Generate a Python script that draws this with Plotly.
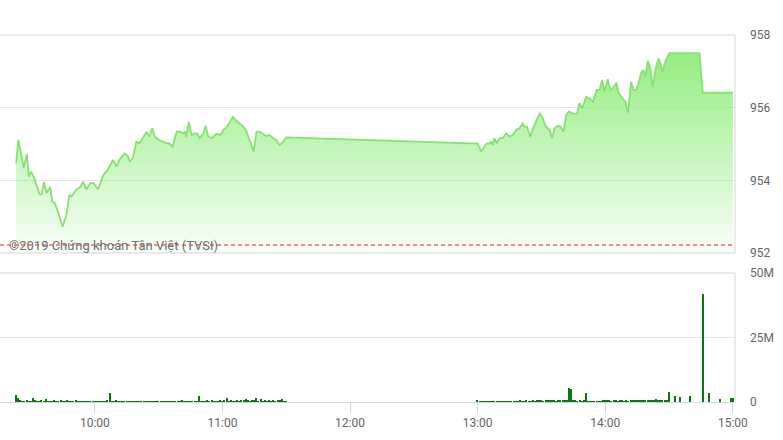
import plotly.graph_objects as go
import pandas as pd

DAY = "2019-06-03 "

# ---- index (price) series: time of day, index level ----
price_times = [
    "09:23:00", "09:24:00", "09:25:00", "09:26:30", "09:28:00", "09:29:00", "09:30:00", "09:31:30",
    "09:32:30", "09:34:00", "09:35:00", "09:36:00", "09:37:20", "09:39:00", "09:40:00", "09:41:10",
    "09:42:50", "09:44:50", "09:46:40", "09:48:00", "09:49:00", "09:51:20", "09:53:00", "09:54:30",
    "09:56:00", "09:58:00", "09:59:30", "10:01:30", "10:04:00", "10:06:00", "10:08:30", "10:10:10",
    "10:11:30", "10:14:00", "10:15:20", "10:16:30", "10:18:00", "10:19:30", "10:21:00", "10:22:30",
    "10:24:20", "10:25:30", "10:27:00", "10:28:10", "10:30:10", "10:33:00", "10:35:00", "10:36:30",
    "10:38:30", "10:40:00", "10:41:30", "10:42:20", "10:43:00", "10:44:10", "10:45:30", "10:47:00",
    "10:48:00", "10:49:20", "10:51:00", "10:52:10", "10:53:10", "10:54:50", "10:56:00", "10:57:10",
    "10:59:00", "11:00:30", "11:02:10", "11:03:30", "11:05:00", "11:06:30", "11:09:00", "11:11:00",
    "11:12:50", "11:14:40", "11:16:00", "11:17:30", "11:18:50", "11:20:40", "11:22:10", "11:23:50",
    "11:25:20", "11:26:50", "11:28:30", "11:30:00",
    "13:00:00", "13:01:40", "13:03:10", "13:04:20", "13:05:10", "13:06:20", "13:07:10", "13:07:50",
    "13:09:00", "13:10:20", "13:11:50", "13:13:30", "13:15:00", "13:16:30", "13:18:10", "13:19:40",
    "13:21:10", "13:22:00", "13:23:10", "13:24:40", "13:26:00", "13:27:30", "13:29:10", "13:30:20",
    "13:32:00", "13:33:50", "13:35:00", "13:36:10", "13:37:40", "13:38:50", "13:40:20", "13:41:40",
    "13:42:50", "13:44:40", "13:46:40", "13:47:50", "13:49:10", "13:51:00", "13:52:30", "13:54:10",
    "13:56:00", "13:57:20", "13:58:30", "13:59:40", "14:01:10", "14:02:20", "14:03:30", "14:05:10",
    "14:06:20", "14:08:10", "14:09:30", "14:10:40", "14:12:10", "14:13:20", "14:14:30", "14:15:40",
    "14:16:50", "14:17:50", "14:18:50", "14:20:00", "14:21:10", "14:22:20", "14:23:50", "14:25:10",
    "14:26:20", "14:27:00", "14:28:20", "14:30:10", "14:44:20", "14:45:50", "15:00:00",
]
price_values = [
    954.47, 955.11, 954.83, 954.34, 954.72, 954.10, 954.24, 954.06,
    953.87, 953.62, 953.61, 953.96, 953.65, 953.82, 953.41, 953.38,
    953.10, 952.72, 953.05, 953.60, 953.55, 953.75, 953.81, 953.96,
    953.75, 953.93, 953.92, 953.75, 954.15, 954.28, 954.56, 954.38,
    954.56, 954.74, 954.68, 954.51, 954.63, 955.06, 955.02, 955.16,
    955.34, 955.20, 955.43, 955.20, 955.11, 955.04, 955.02, 954.93,
    955.34, 955.34, 955.29, 955.34, 955.20, 955.61, 955.25, 955.29,
    955.29, 955.16, 955.29, 955.50, 955.22, 955.16, 955.22, 955.28,
    955.25, 955.39, 955.48, 955.61, 955.75, 955.64, 955.52, 955.39,
    955.11, 954.79, 955.34, 955.34, 955.29, 955.22, 955.25, 955.16,
    955.11, 954.97, 955.06, 955.18,
    955.01, 954.79, 954.93, 955.02, 955.00, 955.06, 954.97, 955.16,
    955.02, 955.16, 955.17, 955.29, 955.20, 955.25, 955.39, 955.43,
    955.57, 955.48, 955.48, 955.20, 955.43, 955.61, 955.84, 955.75,
    955.48, 955.39, 955.16, 955.43, 955.50, 955.48, 955.34, 955.80,
    955.89, 955.84, 955.83, 956.12, 955.98, 956.30, 956.26, 956.16,
    956.49, 956.49, 956.76, 956.44, 956.78, 956.49, 956.53, 956.69,
    956.40, 956.26, 956.16, 955.86, 956.71, 956.49, 956.49, 956.67,
    956.95, 957.04, 956.85, 957.29, 957.08, 956.58, 957.13, 957.36,
    957.13, 956.99, 957.29, 957.50, 957.50, 956.41, 956.41,
]
ref_price = 952.22

# ---- volume (millions of shares), one bar per minute ----
vol_am_start = "09:23"
vol_am = [
    2.7, 1.6, 0.4, 0.3, 0.2, 0.4, 0.2, 0.3, 1.4, 0.4,
    0.3, 0.2, 0.4, 0.2, 1.2, 0.2, 0.3, 0.2, 0.5, 0.2,
    0.3, 0.6, 0.2, 0.3, 0.8, 0.2, 0.3, 0.2, 0.8, 0.3,
    0.2, 0.3, 0.2, 0.1, 0.2, 0.3, 0.2, 0.2, 0.1, 0.2,
    0.3, 0.2, 0.2, 0.4, 3.6, 0.3, 0.2, 0.4, 0.2, 0.3,
    0.2, 0.1, 0.2, 0.1, 0.2, 0.1, 0.2, 0.1, 0.2, 0.1,
    0.2, 0.2, 0.1, 0.2, 0.1, 0.2, 0.1, 0.2, 0.2, 0.1,
    0.2, 0.1, 0.2, 0.2, 0.1, 0.2, 0.3, 0.2, 0.4, 0.2,
    0.3, 0.2, 0.2, 0.3, 0.2, 0.2, 2.3, 0.3, 0.2, 0.2,
    0.4, 0.3, 0.5, 0.2, 0.3, 0.2, 0.4, 0.3, 0.4, 1.5,
    0.3, 0.4, 0.2, 0.3, 0.4, 0.3, 0.5, 0.4, 1.0, 0.5,
    0.3, 0.4, 0.4, 1.5, 0.3, 1.2, 0.3, 0.4, 0.3, 0.5,
    0.3, 0.4, 0.3, 0.5, 0.7, 1.0, 0.2, 0.1,
]
vol_pm_start = "13:00"
vol_pm = [
    0.4, 0.2, 0.1, 0.2, 0.1, 0.2, 0.1, 0.2, 0.1, 0.2,
    0.3, 0.1, 0.2, 0.2, 0.3, 0.2, 0.2, 0.3, 0.2, 0.3,
    0.4, 0.3, 0.2, 0.4, 0.2, 0.3, 0.5, 0.3, 0.4, 0.6,
    0.5, 0.3, 0.7, 0.4, 0.5, 0.4, 0.5, 0.3, 0.9, 0.5,
    0.4, 0.7, 0.5, 5.3, 5.2, 0.8, 0.4, 0.3, 0.4, 0.3,
    0.5, 3.6, 0.3, 0.3, 0.2, 0.3, 0.2, 0.3, 0.2, 0.4,
    0.5, 0.6, 0.4, 0.3, 0.4, 0.5, 0.3, 0.4, 0.5, 0.3,
    0.4, 0.3, 0.4, 0.5, 0.4, 0.6, 0.4, 0.5, 0.7, 0.5,
    0.4, 0.5, 0.6, 0.4, 1.3, 0.5, 0.6, 0.5, 0.7, 0.6,
    3.9,
]
vol_late_times = ["14:33", "14:35", "14:40", "14:46", "14:49", "14:54", "14:59", "15:00"]
vol_late = [2.3, 1.9, 2.4, 42.0, 3.6, 1.2, 1.5, 1.5]

price_ticks = [952, 954, 956, 958]
vol_ticks = [0, 25, 50]
vol_tick_labels = ["0", "25M", "50M"]
time_ticks = ["10:00", "11:00", "12:00", "13:00", "14:00", "15:00"]
watermark = "©2019 Chứng khoán Tân Việt (TVSI)"

# ---- build ----
px = [pd.Timestamp(DAY + t) for t in price_times]
vx = (list(pd.date_range(DAY + vol_am_start, periods=len(vol_am), freq="min"))
      + list(pd.date_range(DAY + vol_pm_start, periods=len(vol_pm), freq="min"))
      + [pd.Timestamp(DAY + t) for t in vol_late_times])
vy = [v * 1e6 for v in vol_am + vol_pm + vol_late]

x_range = [DAY + "09:15:24", DAY + "15:01:00"]
FONT = "Roboto, Arial, sans-serif"

fig = go.Figure()
fig.add_trace(go.Scatter(
    x=px, y=price_values, mode="lines",
    line=dict(color="#86e271", width=1.8),
    fill="tozeroy",
    fillgradient=dict(type="vertical", start=952.0, stop=957.6,
                      colorscale=[[0, "rgba(144,237,125,0.05)"],
                                  [0.5, "rgba(144,237,125,0.52)"],
                                  [1, "rgba(144,237,125,0.97)"]]),
    xaxis="x", yaxis="y", hoverinfo="skip", showlegend=False,
))
fig.add_trace(go.Bar(
    x=vx, y=vy, width=40000, marker=dict(color="#0b780b", line=dict(width=0)),
    xaxis="x2", yaxis="y2", hoverinfo="skip", showlegend=False,
))

TOP_LO, BOT_HI = 0.406, 0.3515
fig.update_layout(
    width=783, height=440,
    margin=dict(l=0, r=48, t=35, b=38),
    paper_bgcolor="white", plot_bgcolor="white",
    font=dict(family=FONT, size=12, color="#666666"),
    bargap=0,
    xaxis=dict(domain=[0, 1], range=x_range, anchor="y", type="date",
               showticklabels=False, showgrid=False, zeroline=False, showline=False, ticks=""),
    yaxis=dict(domain=[TOP_LO, 1], range=[952, 958], side="right",
               tickvals=price_ticks, ticktext=[str(v) for v in price_ticks],
               gridcolor="#e6e6e6", gridwidth=1, zeroline=False, showline=False,
               ticks="", ticklabelstandoff=14,
               tickfont=dict(family=FONT, size=12, color="#666666")),
    xaxis2=dict(domain=[0, 1], range=x_range, anchor="y2", type="date",
                tickvals=[DAY + t for t in time_ticks], ticktext=time_ticks,
                ticks="outside", ticklen=10, tickcolor="#ccd6eb", tickwidth=1,
                showline=True, linecolor="#ccd6eb", linewidth=1,
                showgrid=False, zeroline=False,
                tickfont=dict(family=FONT, size=12, color="#666666")),
    yaxis2=dict(domain=[0, BOT_HI], range=[0, 50e6], side="right",
                tickvals=[v * 1e6 for v in vol_ticks], ticktext=vol_tick_labels,
                gridcolor="#e6e6e6", gridwidth=1, zeroline=False, showline=False,
                ticks="", ticklabelstandoff=14,
                tickfont=dict(family=FONT, size=12, color="#666666")),
)

border = dict(color="#d6d6d6", width=1)
fig.add_shape(type="line", xref="paper", yref="paper", x0=0, x1=1, y0=1, y1=1, line=border)
fig.add_shape(type="line", xref="paper", yref="paper", x0=0, x1=1, y0=TOP_LO, y1=TOP_LO, line=border)
fig.add_shape(type="line", xref="paper", yref="paper", x0=1, x1=1, y0=TOP_LO, y1=1, line=border)
fig.add_shape(type="line", xref="paper", yref="paper", x0=0, x1=1, y0=BOT_HI, y1=BOT_HI, line=border)
fig.add_shape(type="line", xref="paper", yref="paper", x0=1, x1=1, y0=0, y1=BOT_HI, line=border)

fig.add_shape(type="line", xref="paper", yref="y", x0=0, x1=1, y0=ref_price, y1=ref_price,
              line=dict(color="#e02020", width=1, dash="4px,3px"))
fig.add_annotation(text=watermark, xref="paper", yref="y", x=7 / 735, y=ref_price,
                   xanchor="left", yanchor="middle", showarrow=False,
                   font=dict(family=FONT, size=13, color="#707070"))

fig.write_html("out.html", config={"displayModeBar": False},
               post_script="document.body.style.margin='0px';")
